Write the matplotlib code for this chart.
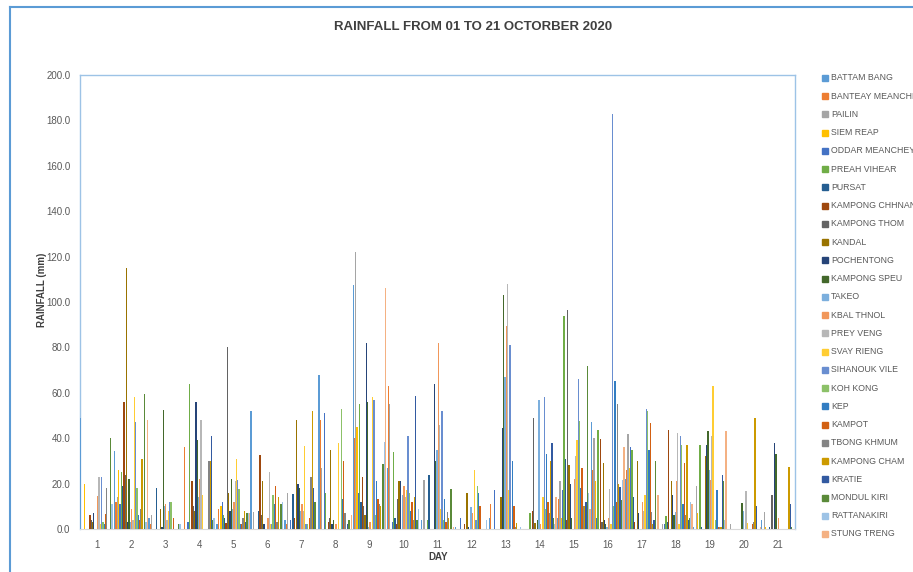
import numpy as np
import matplotlib
matplotlib.use("Agg")
import matplotlib.pyplot as plt
from matplotlib.patches import Rectangle
from matplotlib.lines import Line2D

plt.rcParams['font.family'] = ['Liberation Sans Narrow', 'Liberation Sans', 'DejaVu Sans']

# provinces in legend order
provinces = ["BATTAM BANG", "BANTEAY MEANCHEY", "PAILIN", "SIEM REAP", "ODDAR MEANCHEY",
             "PREAH VIHEAR", "PURSAT", "KAMPONG CHHNANG", "KAMPONG THOM", "KANDAL",
             "POCHENTONG", "KAMPONG SPEU", "TAKEO", "KBAL THNOL", "PREY VENG",
             "SVAY RIENG", "SIHANOUK VILE", "KOH KONG", "KEP", "KAMPOT",
             "TBONG KHMUM", "KAMPONG CHAM", "KRATIE", "MONDUL KIRI", "RATTANAKIRI",
             "STUNG TRENG"]

colors = ["#5B9BD5", "#ED7D31", "#A5A5A5", "#FFC000", "#4472C4", "#70AD47",
          "#255E91", "#9E480E", "#636363", "#997300", "#264478", "#43682B",
          "#7CAFDD", "#F1975A", "#B7B7B7", "#FFCD33", "#698ED0", "#8CC168",
          "#327DC2", "#D26012", "#848484", "#CC9A00", "#335AA1", "#5A8A39",
          "#9DC3E6", "#F4B183"]

days = list(range(1, 22))

# rainfall (mm) per day, one value per province (same order as above)
day01 = [49, 0, 0, 20, 0, 0, 0, 6, 4, 3, 7, 0, 0, 14.5, 23, 2, 23, 3, 2, 6.5, 18, 0, 0, 40, 11, 0]
day02 = [34.5, 12, 14, 26, 11, 25, 19, 56, 24, 115, 3, 22, 3, 9, 4, 58, 47, 18, 6, 4, 9, 31, 0, 59.5, 3, 48]
day03 = [5, 2, 6, 0, 0, 0, 18, 0, 0, 9, 1, 52.5, 10, 11, 4, 8, 12, 12, 0, 5, 0, 0, 0, 2, 2, 0]
day04 = [0, 36, 0, 0, 3, 64, 0, 21, 10, 8, 56, 39, 14, 22, 48, 15, 0, 0, 0, 0, 30, 30, 41, 4, 5, 0]
day05 = [2, 9, 0, 10, 12, 6, 5, 2.5, 80, 16, 8, 22, 9, 12, 21, 31, 21.5, 17.5, 2, 2, 5, 8, 3, 7, 7, 7]
day06 = [52, 0, 7.5, 0, 0, 0, 8, 32.5, 6, 21, 2, 0, 0, 5, 25, 2, 2, 15, 11, 19, 3, 14, 0, 11, 12, 0]
day07 = [4, 2, 16, 0, 4, 0, 15.5, 5, 0, 48, 20, 18, 8, 11, 8, 36.5, 2, 2, 0, 5, 23, 52, 18, 12, 0, 0]
day08 = [68, 48, 27, 0, 51, 16, 0, 3, 5, 35, 2, 4, 0, 2, 0, 38, 0, 53, 13, 30, 7, 0, 2, 4, 0, 6]
day09 = [107.5, 40, 122, 45, 16, 55, 12, 23, 10, 6, 82, 56, 1, 3, 0, 58, 57, 6, 21, 13, 11, 10, 0, 28.5, 38.5, 106]
day10 = [27, 63, 55, 0, 3, 34, 5, 2, 13, 21, 21, 0, 15, 19, 14, 17, 41, 16, 8, 12, 4, 14, 58.5, 4, 9, 0]
day11 = [4, 0, 21.5, 0, 0, 4, 24, 0, 0, 0, 64, 30, 35, 82, 46, 9, 52, 4, 13, 3, 7.6, 5, 0, 17.6, 0, 1]
day12 = [1, 0, 0, 0, 5, 0, 0, 2, 0, 16, 1, 0, 9.5, 7, 0, 26, 4, 19, 16, 10, 0, 0, 0, 0, 4, 0]
day13 = [5, 11, 0, 0, 17, 0, 0, 0, 0, 14, 44.6, 103, 67, 89.5, 108, 17, 81, 0, 30, 10, 1, 2.5, 0, 0, 1, 0]
day14 = [0, 0, 0, 0, 0, 7, 0, 8, 48.7, 2.5, 0, 4, 57, 2, 0, 14, 58, 9, 33, 12, 7, 30, 37.7, 5, 2, 14]
day15 = [5, 13, 21, 5, 17, 94, 31, 4, 96.5, 28, 20, 5, 0, 22, 32, 39, 66, 47.7, 18, 27, 10, 10, 12, 72, 16, 9]
day16 = [47, 26, 40, 21, 5, 43.6, 0, 39.6, 3, 29, 4, 2, 1, 5, 17.6, 2, 183, 10, 65, 12, 55, 20, 18.6, 12.6, 21.6, 36]
day17 = [22, 26, 42, 27, 36, 35, 14, 3, 0, 30, 7, 0, 0, 12, 8, 15, 53, 52, 35, 46.6, 7.6, 2, 4, 30, 0, 15]
day18 = [0, 0, 2, 0, 2, 5.7, 3, 43.6, 0, 21, 15, 6, 7.6, 21, 42.4, 2, 41, 37, 11, 29, 6, 37, 4, 5, 12, 11]
day19 = [1, 0, 19, 7, 0, 37, 1, 0, 0, 32, 37, 43, 26, 21.6, 41, 63, 0, 4, 17, 1, 1, 1, 24, 21, 4, 43]
day20 = [0, 0, 2, 0, 0, 0, 0, 0, 0, 0, 0, 11.5, 8, 0, 16.6, 2.6, 0, 0, 0, 2, 3, 49, 10, 0, 0, 1]
day21 = [4, 0, 7.6, 1, 0, 0, 1, 0, 14.8, 0, 38, 33, 0, 5, 0, 0, 0, 0, 0, 0, 0, 27.5, 11, 1, 0, 0]

rain = np.array([day01, day02, day03, day04, day05, day06, day07, day08, day09, day10,
                 day11, day12, day13, day14, day15, day16, day17, day18, day19, day20, day21])

W, H = 913, 572
fig = plt.figure(figsize=(W / 100, H / 100), dpi=100)
ax = fig.add_axes([80 / W, 1 - 529 / H, 715 / W, 454 / H])

n = len(provinces)
bw = 1.0 / (n + 0.2)
x = np.array(days)
for i, name in enumerate(provinces):
    offs = (i - (n - 1) / 2) * bw
    ax.bar(x + offs, rain[:, i], width=bw, color=colors[i], linewidth=0, label=name, zorder=3)

ax.set_xlim(0.5, 21.5)
ax.set_ylim(0, 200)
ax.set_yticks(np.arange(0, 201, 20))
ax.set_yticklabels([f"{v:.1f}" for v in np.arange(0, 201, 20)])
ax.set_xticks(days)
ax.set_xticklabels([str(d) for d in days])
ax.tick_params(axis='both', length=0, labelsize=7, colors='#595959')
ax.tick_params(axis='x', pad=8)
ax.tick_params(axis='y', pad=7)
for side in ['top', 'left', 'right']:
    ax.spines[side].set_color('#9DC3E6')
    ax.spines[side].set_linewidth(1.0)
ax.spines['bottom'].set_color('#D9D9D9')

fig.text(42 / W, 1 - 290 / H, "RAINFALL (mm)", rotation=90, ha='center', va='center',
         fontsize=7, fontweight='bold', color='#404040')
fig.text(438 / W, 1 - 557 / H, "DAY", ha='center', va='center',
         fontsize=7, fontweight='bold', color='#404040')
fig.text(473 / W, 1 - 27 / H, "RAINFALL FROM 01 TO 21 OCTORBER 2020", ha='center', va='center',
         fontsize=9.5, fontweight='bold', color='#404040')

# legend, drawn by hand to follow the Excel layout
for i, name in enumerate(provinces):
    yc = 78 + i * 18.24
    fig.patches.append(Rectangle((822 / W, 1 - (yc + 3) / H), 6 / W, 6 / H,
                                 transform=fig.transFigure, color=colors[i], figure=fig))
    fig.text(831 / W, 1 - yc / H, name, ha='left', va='center', fontsize=6.3, color='#595959')

# chart frame
fig.add_artist(Line2D([10 / W, 10 / W], [0, 1 - 7 / H], transform=fig.transFigure,
                      color='#5B9BD5', linewidth=1.5))
fig.add_artist(Line2D([10 / W, 1], [1 - 7 / H, 1 - 7 / H], transform=fig.transFigure,
                      color='#5B9BD5', linewidth=1.5))

fig.savefig("out.png", dpi=100)
